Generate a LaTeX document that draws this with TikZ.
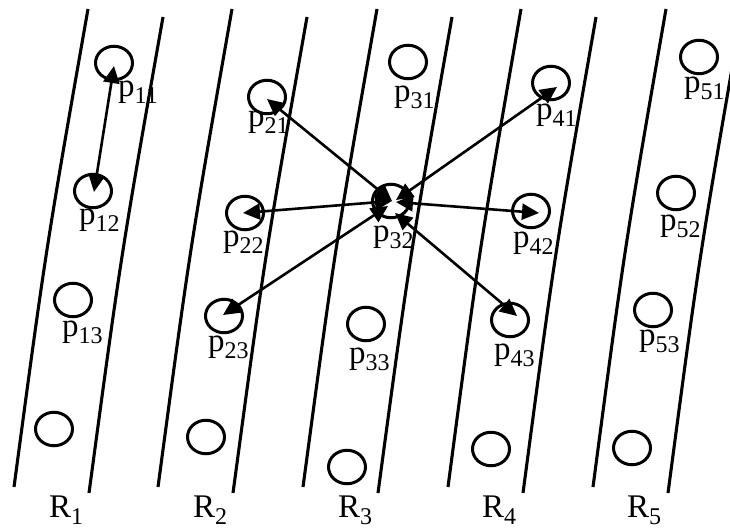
\documentclass[tikz,border=0pt]{standalone}
\usepackage{fontspec}
\setmainfont{Liberation Serif}
\usetikzlibrary{shapes.geometric,arrows.meta}
\newcommand\lsub[1]{\raisebox{-7pt}{\fontsize{24}{24}\selectfont #1}}
\begin{document}
\begin{tikzpicture}[x=1pt,y=-1pt,
  region/.style={line width=3.1pt},
  pt/.style={draw, ellipse, line width=3pt, minimum width=37pt, minimum height=33.5pt, inner sep=0pt},
  lab/.style={anchor=base west, inner sep=0pt, font=\fontsize{33}{38}\selectfont},
  link/.style={line width=2.6pt, {Triangle[length=17pt,width=16pt]}-{Triangle[length=17pt,width=16pt]}}
]
\useasboundingbox (0,0) rectangle (730,527);
\clip (0,0) rectangle (730,527);
% region boundaries
\draw[region] (88,9) .. controls (46,248) .. (14,487);
\draw[region] (163,17) .. controls (121,255) .. (89,493);
\draw[region] (232,9) .. controls (190,248) .. (158,487);
\draw[region] (307,17) .. controls (265,255) .. (233,493);
\draw[region] (377,9) .. controls (335,248) .. (303,487);
\draw[region] (452,17) .. controls (410,255) .. (378,493);
\draw[region] (521,9) .. controls (479.5,248) .. (448,487);
\draw[region] (596,17) .. controls (554.5,255) .. (523,493);
\draw[region] (666,9) .. controls (624.5,248) .. (593,487);
\draw[region] (741,17) .. controls (699.5,255) .. (668,493);
% points
\node[pt] (p11) at (114,63) {};
\node[pt] (p12) at (93,191) {};
\node[pt] (p13) at (73,300) {};
\node[pt] (p14) at (54,429) {};
\node[pt] (p21) at (267,97) {};
\node[pt] (p22) at (245,213) {};
\node[pt] (p23) at (224,316) {};
\node[pt] (p24) at (206,437) {};
\node[pt] (p31) at (408,62) {};
\node[pt] (p32) at (391,201) {};
\node[pt] (p33) at (366,324) {};
\node[pt] (p34) at (347,467) {};
\node[pt] (p41) at (551,83) {};
\node[pt] (p42) at (531,211) {};
\node[pt] (p43) at (510,320) {};
\node[pt] (p44) at (491,449) {};
\node[pt] (p51) at (699,57) {};
\node[pt] (p52) at (676,193) {};
\node[pt] (p53) at (653,310) {};
\node[pt] (p54) at (632,448) {};
% labels
\node[lab] (l11) at (118,96.5) {p\lsub{11}};
\node[lab] (l12) at (79,224.5) {p\lsub{12}};
\node[lab] (l13) at (62,336) {p\lsub{13}};
\node[lab] (l21) at (248,126.5) {p\lsub{21}};
\node[lab] (l22) at (223,246) {p\lsub{22}};
\node[lab] (l23) at (208,351) {p\lsub{23}};
\node[lab] (l31) at (394,101.5) {p\lsub{31}};
\node[lab] (l32) at (373,241) {p\lsub{32}};
\node[lab] (l33) at (349,363) {p\lsub{33}};
\node[lab] (l41) at (536,119.5) {p\lsub{41}};
\node[lab] (l42) at (513,247.5) {p\lsub{42}};
\node[lab] (l43) at (494,359) {p\lsub{43}};
\node[lab] (l51) at (684,92.5) {p\lsub{51}};
\node[lab] (l52) at (660,230.5) {p\lsub{52}};
\node[lab] (l53) at (639,345) {p\lsub{53}};
\node[lab] (r1) at (49,517) {R\lsub{1}};
\node[lab] (r2) at (193,517) {R\lsub{2}};
\node[lab] (r3) at (338,517) {R\lsub{3}};
\node[lab] (r4) at (482,517) {R\lsub{4}};
\node[lab] (r5) at (627,517) {R\lsub{5}};
% connectors
\draw[link] ([shift={(0,3)}]p11.center) -- ([shift={(1,1)}]p12.center);
\draw[link] ([shift={(1,0)}]p32.center) -- ([shift={(0,2)}]p21.center);
\draw[link] ([shift={(1,0)}]p32.center) -- ([shift={(-2,0)}]p22.center);
\draw[link] ([shift={(-3,5)}]p32.center) -- ([shift={(-1,-1)}]p23.center);
\draw[link] ([shift={(5,-1)}]p32.center) -- ([shift={(6,4)}]p41.center);
\draw[link] ([shift={(5,1)}]p32.center) -- ([shift={(8,2)}]p42.center);
\draw[link] ([shift={(4,12)}]p32.center) -- ([shift={(7,-4)}]p43.center);
\end{tikzpicture}
\end{document}
